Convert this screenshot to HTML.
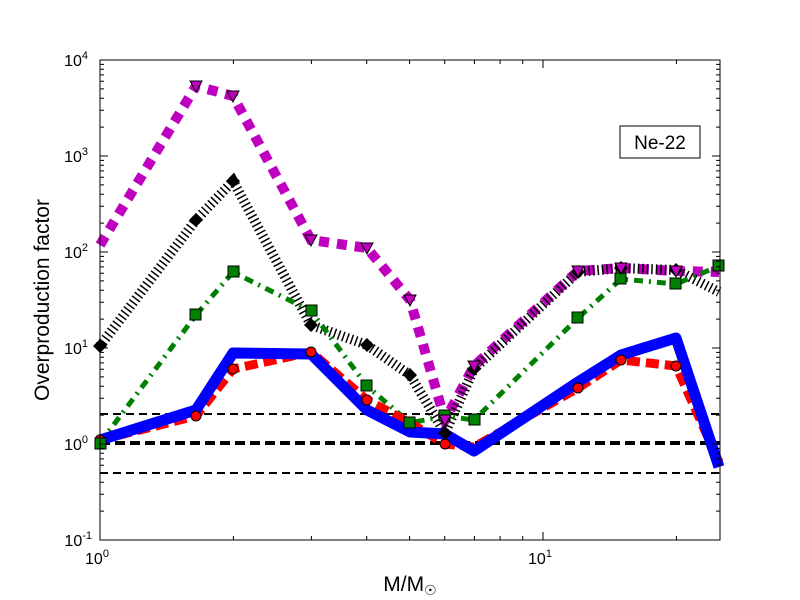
<!DOCTYPE html><html><head><style>body{margin:0;background:#fff}svg{display:block}text{font-family:"Liberation Sans","DejaVu Sans",sans-serif}</style></head><body>
<svg width="800" height="600" xmlns="http://www.w3.org/2000/svg">
<defs>
<path id="dk" d="M0 0h8M0 -28.9h4M0 -45.8h4M0 -57.8h4M0 -67.1h4M0 -74.7h4M0 -81.1h4M0 -86.7h4M0 -91.6h4" stroke="#000" fill="none"/>
</defs>
<rect width="800" height="600" fill="#fff"/>
<g fill="none">
<line x1="100" y1="414" x2="720" y2="414" stroke="#000" stroke-width="2" stroke-dasharray="8,5"/>
<line x1="100" y1="443" x2="720" y2="443" stroke="#000" stroke-width="4" stroke-dasharray="10,5"/>
<line x1="100" y1="473" x2="720" y2="473" stroke="#000" stroke-width="2" stroke-dasharray="8,5"/>
<polyline stroke="#bf00bf" stroke-width="10" stroke-dasharray="10,8" points="100,245 196,86 233,96 311,240 367,248 410,300 445,420 474,366 578,271 621,268 676,271 719,272"/>
<polyline stroke="#000" stroke-width="10" stroke-dasharray="1.5,3" points="100,346 196,220 233,181 311,325 367,345 410,375 445,433 474,369 578,272 621,268 676,270 719,292"/>
<polyline stroke="#008000" stroke-width="5" stroke-dasharray="9,6,2,6" points="100,443 196,315 233,272 311,311 367,386 410,423 445,416 474,420 578,318 621,279 676,284 719,266"/>
<polyline stroke="#ff0000" stroke-width="9" stroke-dasharray="13,6" points="100,440 196,416 233,369 311,352 367,400 410,423 445,444 474,447 578,388 621,360 676,366 719,462"/>
<polyline stroke="#0000ff" stroke-width="11" stroke-linejoin="round" points="100,440 196,410 233,353 311,354 367,410 410,432 445,434 474,451 578,382 621,355 676,338 719,467"/>
</g>
<g fill="#ff0000" stroke="#000"><circle cx="100" cy="440" r="5"/><circle cx="196" cy="416" r="5"/><circle cx="233" cy="369" r="5"/><circle cx="311" cy="352" r="5"/><circle cx="367" cy="400" r="5"/><circle cx="410" cy="423" r="5"/><circle cx="445" cy="444" r="5"/><circle cx="578" cy="388" r="5"/><circle cx="621" cy="360" r="5"/><circle cx="676" cy="366" r="5"/></g>
<g fill="#008000" stroke="#000"><rect x="95" y="438" width="11" height="11"/><rect x="190" y="309" width="11" height="11"/><rect x="228" y="266" width="11" height="11"/><rect x="306" y="305" width="11" height="11"/><rect x="361" y="380" width="11" height="11"/><rect x="404" y="417" width="11" height="11"/><rect x="439" y="410" width="11" height="11"/><rect x="469" y="414" width="11" height="11"/><rect x="572" y="312" width="11" height="11"/><rect x="615" y="273" width="11" height="11"/><rect x="670" y="278" width="11" height="11"/><rect x="713" y="260" width="11" height="11"/></g>
<g fill="#000"><path d="M100 339l7 7-7 7-7-7z"/><path d="M196 213l7 7-7 7-7-7z"/><path d="M233 174l7 7-7 7-7-7z"/><path d="M311 318l7 7-7 7-7-7z"/><path d="M367 338l7 7-7 7-7-7z"/><path d="M410 368l7 7-7 7-7-7z"/><path d="M445 426l7 7-7 7-7-7z"/><path d="M474 362l7 7-7 7-7-7z"/><path d="M578 265l7 7-7 7-7-7z"/><path d="M621 261l7 7-7 7-7-7z"/><path d="M676 263l7 7-7 7-7-7z"/></g>
<g fill="#bf00bf" stroke="#000"><path d="M190 81h12l-6 11z"/><path d="M227 91h12l-6 11z"/><path d="M305 235h12l-6 11z"/><path d="M361 243h12l-6 11z"/><path d="M404 295h12l-6 11z"/><path d="M439 415h12l-6 11z"/><path d="M468 361h12l-6 11z"/><path d="M572 266h12l-6 11z"/><path d="M615 263h12l-6 11z"/><path d="M670 266h12l-6 11z"/></g>
<rect x="100" y="60" width="620" height="480" fill="none" stroke="#000"/>
<use href="#dk" x="100" y="540"/><use href="#dk" x="100" y="444"/><use href="#dk" x="100" y="348"/><use href="#dk" x="100" y="252"/><use href="#dk" x="100" y="156"/>
<g transform="translate(820,0) scale(-1,1)"><use href="#dk" x="100" y="540"/><use href="#dk" x="100" y="444"/><use href="#dk" x="100" y="348"/><use href="#dk" x="100" y="252"/><use href="#dk" x="100" y="156"/></g>
<path stroke="#000" fill="none" d="M543 540v-8M543 60v8M233.4 540v-4M311.4 540v-4M366.7 540v-4M409.6 540v-4M444.7 540v-4M474.4 540v-4M500.1 540v-4M522.7 540v-4M676.4 540v-4M233.4 60v4M311.4 60v4M366.7 60v4M409.6 60v4M444.7 60v4M474.4 60v4M500.1 60v4M522.7 60v4M676.4 60v4"/>
<rect x="620" y="126" width="80" height="32" fill="#fff" stroke="#000"/>
<text x="660" y="149" font-size="19" text-anchor="middle">Ne-22</text>
<g font-size="16" text-anchor="end">
<text x="88" y="66">10<tspan font-size="11" dy="-7">4</tspan></text>
<text x="88" y="162">10<tspan font-size="11" dy="-7">3</tspan></text>
<text x="88" y="258">10<tspan font-size="11" dy="-7">2</tspan></text>
<text x="88" y="354">10<tspan font-size="11" dy="-7">1</tspan></text>
<text x="88" y="450">10<tspan font-size="11" dy="-7">0</tspan></text>
<text x="92" y="546">10<tspan font-size="11" dy="-7">-1</tspan></text>
</g>
<g font-size="16" text-anchor="middle"><text x="97" y="564">10<tspan font-size="11" dy="-7">0</tspan></text><text x="540" y="564">10<tspan font-size="11" dy="-7">1</tspan></text></g>
<text x="410" y="591" font-size="21" text-anchor="middle">M/M<tspan font-size="14" dy="4">☉</tspan></text>
<text transform="translate(49,300) rotate(-90)" font-size="21" text-anchor="middle">Overproduction factor</text>
</svg></body></html>
